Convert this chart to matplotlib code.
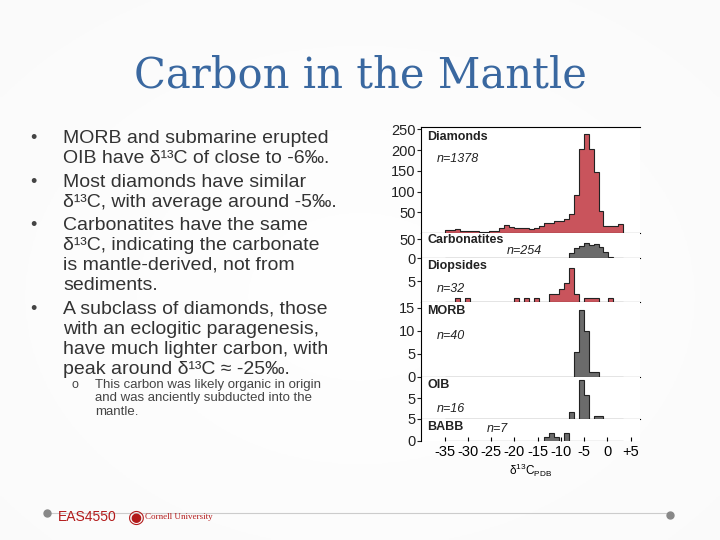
import matplotlib
matplotlib.use("Agg")
import matplotlib.pyplot as plt
import numpy as np

plt.rcParams["font.family"] = ["Liberation Sans", "DejaVu Sans"]
plt.rcParams["mathtext.fontset"] = "custom"
plt.rcParams["mathtext.rm"] = "Liberation Sans"

# ---- data (bin index -> count), bins start at -35 permil
bin_start = -35.0
bin_width = 1.067
n_bins = 36
diamond_k = list(range(0, 36))
diamond_c = [8, 8, 10, 6, 5, 5, 5, 2, 3, 4, 6, 12, 20, 15, 12, 12, 11, 10, 12, 18,
             25, 25, 29, 29, 33, 46, 92, 202, 238, 202, 148, 52, 17, 17, 17, 21]
carb_k = [25, 26, 27, 28, 29, 30, 31, 32, 33]
carb_c = [12, 27, 33, 40, 35, 37, 28, 15, 3]
diop_k = [2, 4, 14, 16, 18, 21, 22, 23, 24, 25, 26, 28, 29, 30, 33]
diop_c = [1, 1, 1, 1, 1, 2, 2, 3, 4.5, 8, 2, 1, 1, 1, 1]
morb_k = [26, 27, 28, 29, 30]
morb_c = [5.5, 14.5, 10, 1, 1]
oib_k = [25, 27, 28, 30, 31]
oib_c = [1.6, 9.3, 5.6, 0.7, 0.7]
babb_k = [20, 21, 22, 24]
babb_c = [1, 2, 1, 2]

panels = [
    ("Diamonds", "n=1378", diamond_k, diamond_c, "#c9545c", (127, 233), 256, [50, 100, 150, 200, 250], None),
    ("Carbonatites", "n=254", carb_k, carb_c, "#6b6b6b", (233, 258), 66, [0, 50], None),
    ("Diopsides", "n=32", diop_k, diop_c, "#c9545c", (258, 302), 10.5, [5], None),
    ("MORB", "n=40", morb_k, morb_c, "#6b6b6b", (302, 377), 16.3, [0, 5, 10, 15], None),
    ("OIB", "n=16", oib_k, oib_c, "#6b6b6b", (377, 419), 10, [0, 5], ["5", "5"]),
    ("BABB", "n=7", babb_k, babb_c, "#6b6b6b", (419, 441), 5.2, [0], None),
]
xticks = [-35, -30, -25, -20, -15, -10, -5, 0, 5]
xticklabels = ["-35", "-30", "-25", "-20", "-15", "-10", "-5", "0", "+5"]

W, H = 720, 540
fig = plt.figure(figsize=(7.2, 5.4), dpi=100)
fig.patch.set_facecolor("#f3f3f3")
bg = fig.add_axes([0, 0, 1, 1], zorder=-10)
yy, xx = np.mgrid[0:1:200j, 0:1:200j]
g = np.clip(1 - 0.18 * np.sqrt((xx - 0.5) ** 2 + (yy - 0.55) ** 2) * 2, 0, 1)
bg.imshow(np.dstack([0.93 + 0.07 * g] * 3), extent=[0, 1, 0, 1], aspect="auto")
bg.axis("off")

fig.text(360 / W, 1 - 75 / H, "Carbon in the Mantle", ha="center", va="center",
         fontsize=30, color="#3a68a0", family="DejaVu Serif")

bul = [
    (137, True, "MORB and submarine erupted"), (157, False, "OIB have δ¹³C of close to -6‰."),
    (181, True, "Most diamonds have similar"), (201, False, "δ¹³C, with average around -5‰."),
    (224, True, "Carbonatites have the same"), (244, False, "δ¹³C, indicating the carbonate"),
    (264, False, "is mantle-derived, not from"), (284, False, "sediments."),
    (308, True, "A subclass of diamonds, those"), (328, False, "with an eclogitic paragenesis,"),
    (348, False, "have much lighter carbon, with"), (368, False, "peak around δ¹³C ≈ -25‰."),
]
for y, b, t in bul:
    if b:
        fig.text(30 / W, 1 - (y + 6) / H, "•", fontsize=13, color="#444", va="baseline")
    fig.text(63 / W, 1 - (y + 6) / H, t, fontsize=14, color="#333", va="baseline")
fig.text(72 / W, 1 - (384 + 4) / H, "o", fontsize=9, color="#444", va="baseline")
for y, t in [(384, "This carbon was likely organic in origin"), (397, "and was anciently subducted into the"),
             (411, "mantle.")]:
    fig.text(95 / W, 1 - (y + 4) / H, t, fontsize=9.5, color="#444", va="baseline")

# footer
line = fig.add_axes([0, 0, 1, 1], zorder=-5)
line.axis("off"); line.set_xlim(0, W); line.set_ylim(H, 0)
line.plot([47, 670], [513, 513], color="#cccccc", lw=0.8)
line.plot([47], [513], "o", color="#888", ms=5)
line.plot([670], [515], "o", color="#888", ms=5)
fig.text(58 / W, 1 - 517 / H, "EAS4550", color="#b31b1b", fontsize=10, va="center")
fig.text(128 / W, 1 - 517 / H, "◉", color="#b31b1b", fontsize=14, va="center", family="DejaVu Sans")
fig.text(145 / W, 1 - 517 / H, "Cornell University", color="#b31b1b", fontsize=6.5, va="center",
         family="Liberation Serif")

x0, x1 = 421, 640
xlim = (-40.1, 7.0)
edges = bin_start + bin_width * np.arange(n_bins + 1)
for i, (name, n, ks, cs, col, (top, bot), ymax, yt, ytl) in enumerate(panels):
    ax = fig.add_axes([x0 / W, 1 - bot / H, (x1 - x0) / W, (bot - top) / H])
    ax.set_facecolor("white")
    vals = np.zeros(n_bins)
    vals[ks] = cs
    ax.stairs(vals, edges, fill=True, color=col, lw=0)
    ax.stairs(vals, edges, fill=False, color="#222", lw=0.8)
    ax.set_xlim(*xlim)
    ax.set_ylim(0, ymax)
    ax.set_yticks(yt)
    if ytl:
        ax.set_yticklabels(ytl)
    ax.tick_params(axis="y", labelsize=10.5, length=3, pad=1, colors="#222")
    ax.set_xticks(xticks)
    last = i == len(panels) - 1
    if last:
        ax.set_xticklabels(xticklabels)
        ax.tick_params(axis="x", labelsize=10.5, length=3, pad=3, direction="in")
        ax.spines["bottom"].set_visible(False)
        ax.set_xlabel("δ$^{13}$C$_{\\mathrm{PDB}}$", fontsize=8.5, labelpad=2)
    else:
        ax.tick_params(axis="x", labelbottom=False, length=3, direction="out")
    ax.spines["right"].set_visible(False)
    if i > 0:
        ax.spines["top"].set_visible(False)
    for s in ax.spines.values():
        s.set_linewidth(0.8)
    ax.text(0.03, 0.96 if i != 5 else 0.9, name, transform=ax.transAxes, fontsize=9,
            fontweight="bold", va="top", color="#222")
    nx, ny = {0: (0.07, 0.7), 1: (0.39, 0.28), 2: (0.07, 0.3), 3: (0.07, 0.55),
              4: (0.07, 0.25), 5: (0.3, 0.55)}[i]
    ax.text(nx, ny, n, transform=ax.transAxes, fontsize=9, style="italic",
            va="center", color="#222")

fig.savefig("out.png", dpi=100, facecolor=fig.get_facecolor())
